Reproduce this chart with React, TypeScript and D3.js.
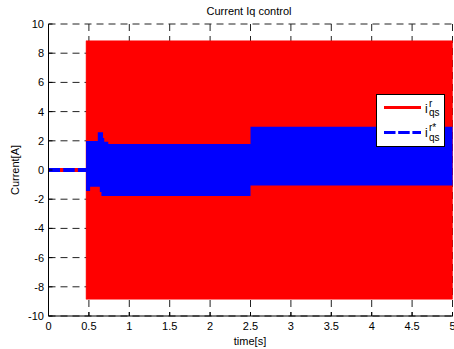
import React from "react";
import * as d3 from "d3";

const xTicks = [0, 0.5, 1, 1.5, 2, 2.5, 3, 3.5, 4, 4.5, 5];
const yTicks = [-10, -8, -6, -4, -2, 0, 2, 4, 6, 8, 10];

// before the step: both signals sit at zero
const preTime = [0, 0.465];
const preRed = [0, 0];
const preBlue = [0, 0];

// envelope of the oscillating measured current (red)
const redTime = [0.465, 5];
const redUpper = [8.85, 8.85];
const redLower = [-8.85, -8.85];

// envelope of the reference current (blue), step-after breakpoints
const blueUpTime = [0.465, 0.61, 0.675, 0.69, 0.74, 2.5, 5];
const blueUpVal = [1.99, 2.58, 2.19, 1.94, 1.78, 2.97, 2.97];
const blueLoTime = [0.465, 0.515, 0.635, 0.655, 2.5, 5];
const blueLoVal = [-1.44, -1.14, -1.5, -1.78, -1.07, -1.07];

const W = 454;
const H = 349;
const FONT = "'Liberation Sans', Arial, sans-serif";

export default function App() {
  const x = d3.scaleLinear().domain([0, 5]).range([48.5, 452.5]);
  const y = d3.scaleLinear().domain([-10, 10]).range([316, 24]);
  const left = x(0);
  const right = 453;
  const top = y(10);
  const bottom = y(-10);

  const redArea = d3
    .area<number>()
    .x((_, i) => x(redTime[i]))
    .y0((_, i) => y(redLower[i]))
    .y1((_, i) => y(redUpper[i]));

  const upArea = d3
    .area<number>()
    .x((_, i) => x(blueUpTime[i]))
    .y0(() => y(0))
    .y1((d) => y(d))
    .curve(d3.curveStepAfter);
  const loArea = d3
    .area<number>()
    .x((_, i) => x(blueLoTime[i]))
    .y0(() => y(0))
    .y1((d) => y(d))
    .curve(d3.curveStepAfter);

  const preLineRed = d3
    .line<number>()
    .x((_, i) => x(preTime[i]))
    .y((d) => y(d));

  return (
    <svg
      width={W}
      height={H}
      style={{ position: "absolute", left: 0, top: 0, background: "#fff" }}
      fontFamily={FONT}
    >
      <rect x={0} y={0} width={W} height={H} fill="#fff" />
      {/* grid */}
      <g stroke="#222" strokeWidth={1} strokeDasharray="7,5" fill="none">
        {yTicks.map((t) => (
          <line key={"gy" + t} x1={left} x2={right} y1={y(t)} y2={y(t)} />
        ))}
        {xTicks
          .filter((t) => t > 0)
          .map((t) => (
            <line key={"gx" + t} x1={x(t)} x2={x(t)} y1={top} y2={bottom} />
          ))}
      </g>

      {/* data */}
      <path d={preLineRed(preRed) || ""} stroke="#ff0000" strokeWidth={4} fill="none" />
      <path d={redArea(redUpper) || ""} fill="#ff0000" stroke="#ff0000" strokeWidth={0.5} />
      <path d={upArea(blueUpVal) || ""} fill="#0000ff" />
      <path d={loArea(blueLoVal) || ""} fill="#0000ff" />
      <path
        d={preLineRed(preBlue) || ""}
        stroke="#0000ff"
        strokeWidth={4}
        strokeDasharray="11.5,3.2"
        fill="none"
      />

      {/* axes */}
      <g stroke="#000" strokeWidth={1}>
        <line x1={left} x2={left} y1={top} y2={bottom} />
        <line x1={left} x2={right} y1={bottom} y2={bottom} />
        {yTicks.map((t) => (
          <line key={"ty" + t} x1={left} x2={left + 4} y1={y(t)} y2={y(t)} />
        ))}
        {xTicks.map((t) => (
          <line key={"tx" + t} x1={x(t)} x2={x(t)} y1={bottom} y2={bottom - 4} />
        ))}
      </g>
      <g fontSize={11} fill="#000">
        {yTicks.map((t) => (
          <text key={"ly" + t} x={44} y={y(t) + 4} textAnchor="end">
            {t}
          </text>
        ))}
        {xTicks.map((t) => (
          <text key={"lx" + t} x={x(t)} y={330} textAnchor="middle">
            {t}
          </text>
        ))}
        <text x={250} y={345} textAnchor="middle">
          time[s]
        </text>
        <text transform="translate(19,170) rotate(-90)" textAnchor="middle">
          Current[A]
        </text>
        <text x={249} y={15} textAnchor="middle">
          Current Iq control
        </text>
      </g>

      {/* legend */}
      <g>
        <rect x={376.5} y={94.5} width={68} height={52} fill="#fff" stroke="#000" strokeWidth={1} />
        <line x1={384} x2={421} y1={107.5} y2={107.5} stroke="#ff0000" strokeWidth={3} />
        <line
          x1={384}
          x2={421}
          y1={132.5}
          y2={132.5}
          stroke="#0000ff"
          strokeWidth={3}
          strokeDasharray="11.5,2.7"
        />
        <g fill="#000">
          <text x={425} y={113} fontSize={12}>i</text>
          <text x={429} y={106.5} fontSize={10}>r</text>
          <text x={429} y={116} fontSize={10}>qs</text>
          <text x={425} y={137} fontSize={12}>i</text>
          <text x={429} y={131} fontSize={10}>r*</text>
          <text x={429} y={140.5} fontSize={10}>qs</text>
        </g>
      </g>
    </svg>
  );
}
